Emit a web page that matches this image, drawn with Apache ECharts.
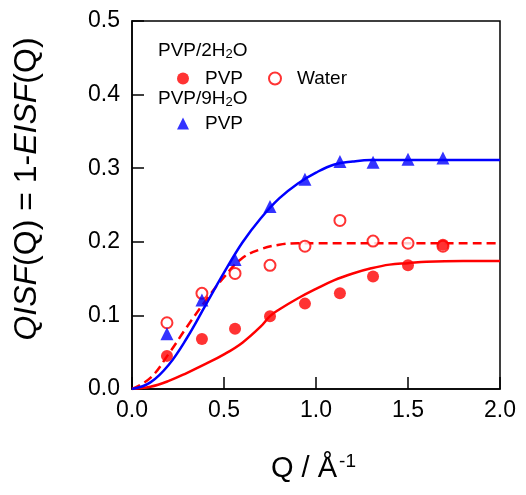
<!DOCTYPE html>
<html>
<head>
<meta charset="utf-8">
<script src="https://cdn.jsdelivr.net/npm/echarts@6/dist/echarts.min.js"></script>
<style>
  html, body { margin: 0; padding: 0; background: #fff; }
  #chart { width: 526px; height: 495px; }
</style>
</head>
<body>
<div id="chart"></div>
<script>
// measured Q positions (1/Å)
const qPoints = [0.19, 0.38, 0.56, 0.75, 0.94, 1.13, 1.31, 1.5, 1.69];
// PVP/2H2O
const pvp2 = [0.045, 0.068, 0.082, 0.099, 0.116, 0.130, 0.153, 0.168, 0.196];
const water2 = [0.090, 0.130, 0.157, 0.168, 0.194, 0.229, 0.201, 0.198, 0.194];
// PVP/9H2O
const pvp9 = [0.075, 0.121, 0.176, 0.248, 0.285, 0.309, 0.308, 0.312, 0.314];

// fitted curves
const pvp2FitQ = [0, 0.1, 0.2, 0.3, 0.4, 0.5, 0.6, 0.7, 0.75, 0.8, 0.9, 1.0, 1.1, 1.2, 1.3, 1.4, 1.5, 1.6, 1.8, 2.0];
const pvp2Fit = [0, 0.003, 0.011, 0.022, 0.034, 0.047, 0.063, 0.085, 0.099, 0.108, 0.123, 0.136, 0.148, 0.157, 0.164, 0.169, 0.171, 0.173, 0.174, 0.174];
const waterFitQ = [0, 0.1, 0.2, 0.3, 0.4, 0.5, 0.6, 0.7, 0.8, 0.9, 1.0, 1.5, 2.0];
const waterFit = [0, 0.015, 0.048, 0.085, 0.12, 0.152, 0.178, 0.190, 0.196, 0.198, 0.198, 0.198, 0.198];
const pvp9FitQ = [0, 0.1, 0.2, 0.3, 0.4, 0.5, 0.6, 0.7, 0.8, 0.9, 1.0, 1.1, 1.2, 1.3, 1.5, 2.0];
const pvp9Fit = [0, 0.009, 0.033, 0.07, 0.114, 0.158, 0.199, 0.232, 0.259, 0.279, 0.294, 0.305, 0.309, 0.311, 0.311, 0.311];

const xTicks = [0, 2, 0.5];
const yTicks = [0, 0.5, 0.1];

const font = "Arial, 'Liberation Sans', sans-serif";
const RED = "#ff0000";
const BLUE = "#0000ff";

const zip = (xs, ys) => xs.map((x, i) => [x, ys[i]]);

const fitLine = (name, xs, ys, color, type) => ({
  name,
  type: "line",
  data: zip(xs, ys),
  smooth: 0.4,
  showSymbol: false,
  symbol: "none",
  silent: true,
  lineStyle: { color, width: 2.5, type },
  z: 2,
});

const legendBase = {
  orient: "horizontal",
  itemWidth: 12,
  itemHeight: 12,
  selectedMode: false,
  textStyle: { fontSize: 19, fontFamily: font, color: "#000", padding: [0, 0, 0, 11] },
  formatter: (name) => (name === "Water" ? "Water" : "PVP"),
};

const chart = echarts.init(document.getElementById("chart"));

chart.setOption({
  animation: false,
  backgroundColor: "#fff",
  grid: {
    left: 132, right: 26, top: 21, bottom: 106,
    show: true, borderColor: "#000", borderWidth: 1.5, backgroundColor: "transparent",
  },
  xAxis: {
    type: "value",
    min: xTicks[0], max: xTicks[1], interval: xTicks[2],
    axisLine: { lineStyle: { color: "#000", width: 1.5 } },
    axisTick: { inside: true, length: 12, lineStyle: { color: "#000", width: 1.5 } },
    axisLabel: { fontSize: 23, fontFamily: font, color: "#000", margin: 10, formatter: (v) => v.toFixed(1) },
    splitLine: { show: false },
  },
  yAxis: {
    type: "value",
    min: yTicks[0], max: yTicks[1], interval: yTicks[2],
    axisLine: { lineStyle: { color: "#000", width: 1.5 } },
    axisTick: { inside: true, length: 12, lineStyle: { color: "#000", width: 1.5 } },
    axisLabel: { fontSize: 23, fontFamily: font, color: "#000", margin: 12, formatter: (v) => v.toFixed(1) },
    splitLine: { show: false },
  },
  legend: [
    { ...legendBase, data: ["PVP/2H2O PVP"], left: 172, top: 64 },
    { ...legendBase, data: ["Water"], left: 263, top: 64 },
    { ...legendBase, data: ["PVP/9H2O PVP"], left: 172, top: 109 },
  ],
  graphic: [
    {
      type: "text", left: 158, top: 41, silent: true,
      style: {
        text: "PVP/2H{sub|2}O", font: "19px " + font, fill: "#000",
        rich: { sub: { fontSize: 13, fontFamily: font, verticalAlign: "bottom", padding: [8, 0, 0, 0] } },
      },
    },
    {
      type: "text", left: 158, top: 89, silent: true,
      style: {
        text: "PVP/9H{sub|2}O", font: "19px " + font, fill: "#000",
        rich: { sub: { fontSize: 13, fontFamily: font, verticalAlign: "bottom", padding: [8, 0, 0, 0] } },
      },
    },
    {
      type: "text", left: 271, top: 452, silent: true,
      style: {
        text: "Q / Å{sup|-1}", font: "29px " + font, fill: "#000",
        rich: { sup: { fontSize: 19, fontFamily: font, verticalAlign: "top", padding: [0, 0, 14, 2] } },
      },
    },
    {
      type: "text", x: 27, y: 189, rotation: Math.PI / 2, silent: true,
      style: {
        text: "{i|QISF}(Q) = 1-{i|EISF}(Q)", font: "32px " + font, fill: "#000",
        align: "center", verticalAlign: "middle",
        rich: { i: { fontSize: 32, fontFamily: font, fontStyle: "italic" } },
      },
    },
  ],
  series: [
    fitLine("pvp2 fit", pvp2FitQ, pvp2Fit, RED, "solid"),
    fitLine("water fit", waterFitQ, waterFit, RED, [9, 5]),
    fitLine("pvp9 fit", pvp9FitQ, pvp9Fit, BLUE, "solid"),
    {
      name: "Water",
      type: "scatter",
      data: zip(qPoints, water2),
      symbol: "circle",
      symbolSize: 11,
      itemStyle: { color: "#fff", borderColor: RED, borderWidth: 2 },
      z: 3,
    },
    {
      name: "PVP/2H2O PVP",
      type: "scatter",
      data: zip(qPoints, pvp2),
      symbol: "circle",
      symbolSize: 12,
      itemStyle: { color: RED },
      z: 4,
    },
    {
      name: "PVP/9H2O PVP",
      type: "scatter",
      data: zip(qPoints, pvp9),
      symbol: "triangle",
      symbolSize: 13,
      itemStyle: { color: BLUE },
      z: 4,
    },
  ],
});
</script>
</body>
</html>
